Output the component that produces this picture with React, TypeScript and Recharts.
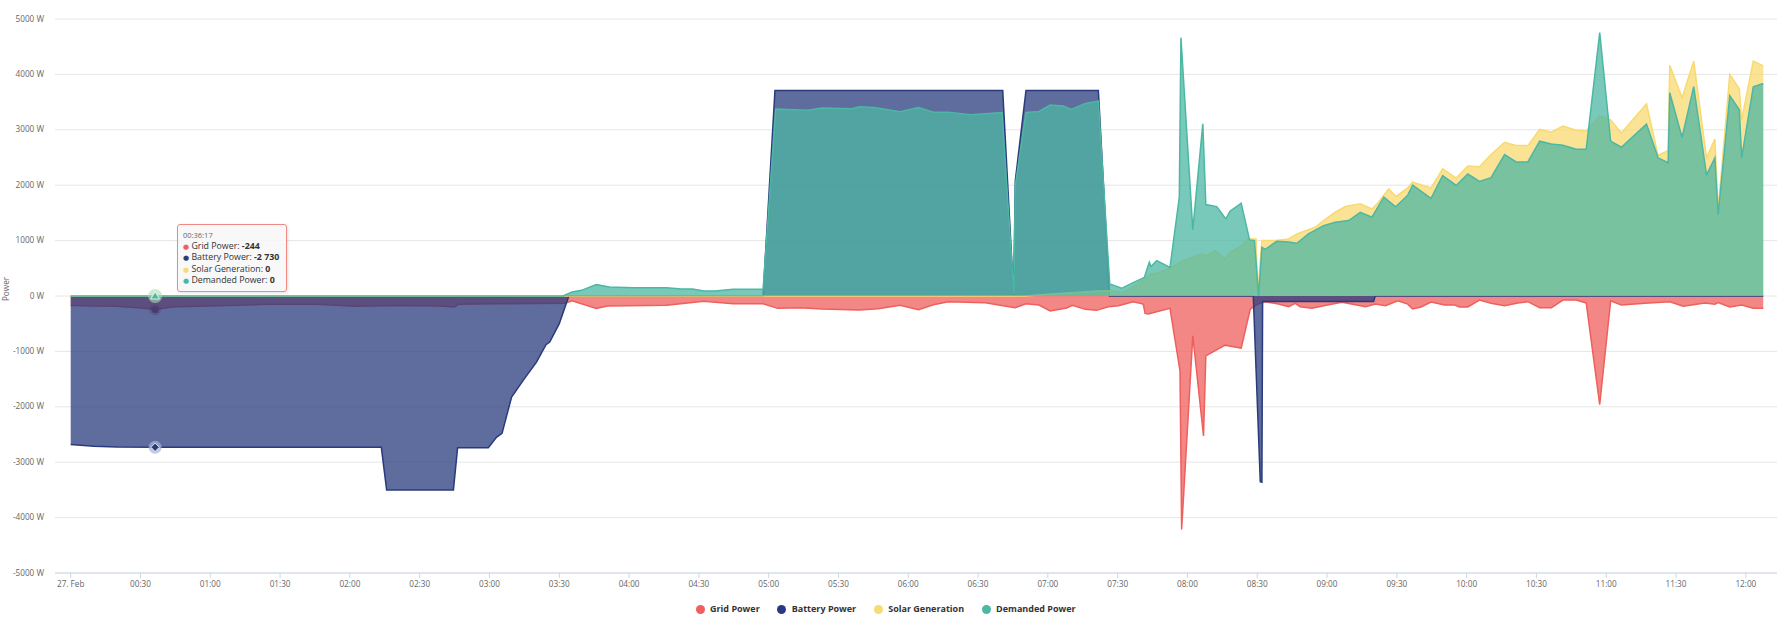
import React from 'react';
import { AreaChart, Area, XAxis, YAxis, CartesianGrid, Tooltip } from 'recharts';

const FONT = '"Open Sans", "DejaVu Sans", sans-serif';

// time = minutes after midnight on 27 Feb, values in W
const gridTimes = [
  0, 10, 19, 24, 30, 36.28, 43.6, 55, 68, 84.6, 106, 122, 142, 158, 165, 166.6, 183, 200, 212.5,
  215.5, 225.9, 230.7, 256.1, 272.1, 284.8, 297.6, 303.9, 313.5, 323, 339, 347, 356.5, 364.4, 370.8,
  377.2, 393.1, 405.9, 410.6, 416.2, 421, 428.1, 430.5, 436.1, 440.9, 446, 450.3, 456.7, 461, 461.8,
  463.2, 467.5, 472.5, 476.8, 477.5, 482.3, 486.9, 487.9, 496.2, 503.1, 507, 510, 513.4, 519.1,
  523.5, 526.3, 528.5, 533.5, 540.7, 546.4, 552.2, 556.5, 560.8, 565.1, 570.4, 574.7, 576.8, 580.4,
  584.7, 590.5, 594.8, 596.9, 600.5, 605.5, 610.5, 616.3, 622, 626.3, 631.4, 636.4, 641.4, 647.1,
  651.4, 657.2, 661.9, 666.5, 676.6, 687.3, 693.1, 702.4, 706.7, 708.1, 713.1, 718.2, 723.2, 727.5,
];
const gridValues = [
  -170, -180, -185, -200, -215, -244, -200, -185, -170, -150, -150, -185, -170, -180, -200, -150, -140, -135, -130,
  -85, -223, -180, -169, -96, -139, -139, -223, -211, -235, -253, -229, -169, -247, -157,
  -102, -120, -211, -139, -163, -271, -217, -169, -241, -259, -193, -175, -103, -145, -314,
  -326, -277, -223, -1350, -4214, -718, -2527, -1080, -887, -941, -236, -150, -103, -145,
  -193, -133, -193, -223, -157, -115, -157, -193, -145, -175, -88, -147, -235, -198,
  -110, -161, -161, -198, -198, -73, -132, -176, -125, -103, -213, -213, -73, -73,
  -125, -1959, -88, -161, -132, -103, -183, -125, -147, -117, -198, -161, -220, -220,
];

const batteryTimes = [
  0, 10, 20, 36.28, 133.5, 135.8, 164.5, 166.3, 179.5, 183, 185.4, 189.5, 194.8, 200.2, 204.3, 205.9,
  210, 214.1, 297.6, 302.7, 400.6, 405.3, 406, 410.6, 441.7, 446.5, 508.3, 511.3, 512, 512.3, 560,
  560.7, 727.5,
];
const batteryValues = [
  -2680, -2710, -2725, -2730, -2730, -3500, -3500, -2740, -2740, -2550, -2480, -1825, -1506, -1193, -880, -831,
  -500, 0, 0, 3710, 3710, 0, 2080, 3710, 3710, 0, 0, -3350, -3360, -100, -100,
  0, 0,
];

const solarTimes = [
  0, 36.28, 410, 420, 430, 441.7, 446.6, 451.7, 456, 461.5, 464.3, 466.8, 472.5, 477.5, 482, 486.1, 488,
  491.9, 496.2, 498.3, 503, 506.2, 509.5, 510.2, 512, 517.7, 523.5, 527, 534.9, 538.5, 543.5, 547.9,
  554.3, 559.3, 561.5, 566.5, 569.7, 574.7, 576.8, 584.7, 589.7, 595.5, 600.5, 605.5, 610.5, 616.3,
  621.3, 626.3, 631.4, 636.4, 641.4, 647.1, 651.4, 657.2, 661.9, 666.5, 677.3, 682.3, 686.6, 687.3,
  692.6, 697.6, 703.1, 706.7, 708.1, 713.1, 717.2, 718.2, 723.2, 727.5,
];
const solarValues = [
  0, 0, 0, 30, 60, 90, 96, 66, 150, 300, 400, 410, 500, 627, 700, 759, 729,
  819, 669, 789, 900, 1030, 1030, 30, 1000, 1000, 1030, 1120, 1241, 1361, 1512, 1614,
  1663, 1572, 1663, 1934, 1797, 1952, 2054, 1952, 2296, 2128, 2348, 2333, 2553, 2773,
  2715, 2715, 3008, 2957, 3067, 2993, 2979, 3250, 3177, 2942, 3470, 2538, 2627, 4167,
  3580, 4240, 2494, 2832, 1550, 3998, 3742, 3177, 4240, 4153,
];

const demandTimes = [
  0, 36.28, 211.6, 215.5, 219.5, 225.9, 231.5, 241.8, 256.1, 262.5, 267.3, 272.1, 276.9, 284.8, 297.6,
  303, 316.7, 323, 335.8, 339, 345.3, 356.5, 364.4, 370.8, 377.2, 386.7, 400.3, 405.4, 406, 410.6,
  416.2, 421, 426.6, 430.1, 436.1, 441.7, 446.6, 451.7, 456, 461.5, 462.5, 463.6, 464.3, 466.8, 472.5,
  476.5, 477.2, 482.3, 486.6, 487.9, 492.6, 496.5, 498.3, 503.1, 506.7, 508.8, 510.6, 512, 513.4,
  518.4, 523.5, 527, 532, 538.5, 543.5, 549.3, 554.3, 559.3, 564.4, 569.5, 574.7, 576.8, 584.7,
  589.7, 595.5, 600.5, 605.5, 610.5, 616.3, 621.3, 626.3, 631.4, 636.4, 641.4, 647.1, 651.4, 657.2,
  661.9, 666.5, 677.3, 682.3, 686.6, 687.3, 692.6, 697.6, 703.1, 706.7, 708.1, 713.1, 717.2, 718.2,
  723.2, 727.5,
];
const demandValues = [
  0, 0, 0, 72, 102, 205, 163, 150, 150, 126, 126, 90, 90, 120, 120,
  3373, 3355, 3392, 3380, 3416, 3404, 3325, 3404, 3319, 3319, 3271, 3313, 30, 2000, 3313,
  3331, 3446, 3428, 3367, 3476, 3518, 217, 139, 229, 337, 470, 608, 530, 639, 518,
  1783, 4663, 1193, 3108, 1651, 1614, 1392, 1530, 1675, 1012, 1000, 0, 880, 843,
  988, 976, 952, 1120, 1271, 1331, 1361, 1512, 1422, 1783, 1610, 1820, 2003, 1761,
  2172, 1996, 2201, 2069, 2135, 2553, 2421, 2421, 2795, 2744, 2722, 2649, 2649, 4754,
  2795, 2685, 3103, 2494, 2406, 3668, 2861, 3778, 2186, 2494, 1467, 3617, 3360, 2494,
  3778, 3837,
];

const xTicks = [0, 30, 60, 90, 120, 150, 180, 210, 240, 270, 300, 330, 360, 390, 420, 450, 480, 510, 540, 570, 600, 630, 660, 690, 720];
const yTicks = [-5000, -4000, -3000, -2000, -1000, 0, 1000, 2000, 3000, 4000, 5000];
const HOVER_T = 36.28;

const SERIES = [
  { key: 'grid', name: 'Grid Power', color: '#ef5f5c', times: gridTimes, values: gridValues },
  { key: 'battery', name: 'Battery Power', color: '#2a3b7d', times: batteryTimes, values: batteryValues },
  { key: 'solar', name: 'Solar Generation', color: '#f8da70', times: solarTimes, values: solarValues },
  { key: 'demand', name: 'Demanded Power', color: '#4cb7a3', times: demandTimes, values: demandValues },
];

const allTimes = Array.from(new Set(SERIES.flatMap((s) => s.times))).sort((a, b) => a - b);
const table = allTimes.map((t) => {
  const row: any = { t };
  SERIES.forEach((s) => {
    const i = s.times.indexOf(t);
    if (i >= 0) row[s.key] = s.values[i];
  });
  return row;
});
const hoverIndex = table.findIndex((r) => r.t === HOVER_T);

const pad = (n: number) => String(n).padStart(2, '0');
const fmtTick = (m: number) => (m === 0 ? '27. Feb' : `${pad(Math.floor(m / 60))}:${pad(m % 60)}`);
const fmtClock = (m: number) => {
  const s = Math.round(m * 60);
  return `${pad(Math.floor(s / 3600))}:${pad(Math.floor((s % 3600) / 60))}:${pad(s % 60)}`;
};
const fmtNum = (v: number) => {
  const s = Math.abs(Math.round(v)).toString().replace(/\B(?=(\d{3})+(?!\d))/g, ' ');
  return (v < 0 ? '-' : '') + s;
};

const YTick = ({ x, y, payload }: any) => (
  <text x={x} y={y} dy="0.32em" textAnchor="end" fontFamily={FONT} fontSize={8.2} fill="#666">
    {`${payload.value} W`}
  </text>
);

const HoverTooltip = ({ active, payload, label }: any) => {
  if (!active || !payload || !payload.length) return null;
  return (
    <div
      style={{
        boxSizing: 'border-box',
        width: 110,
        background: 'rgba(247,247,247,0.85)',
        border: '1px solid #f08883',
        borderRadius: 3,
        padding: '5px 5px',
        fontFamily: FONT,
        fontSize: 8.8,
        color: '#333',
        boxShadow: '1px 1px 3px rgba(0,0,0,0.12)',
        whiteSpace: 'nowrap',
      }}
    >
      <div style={{ fontSize: 7.5, lineHeight: '11px', color: '#666' }}>{fmtClock(label)}</div>
      {payload.map((p: any) => (
        <div key={p.dataKey} style={{ lineHeight: '11.3px' }}>
          <span style={{ color: p.color, fontSize: 7 }}>●</span> {p.name}: <b>{fmtNum(p.value)}</b>
        </div>
      ))}
    </div>
  );
};

const GridDot = ({ cx, cy }: any) => (
  <g>
    <circle cx={cx} cy={cy} r={6} fill="#4a3c6c" fillOpacity={0.3} />
    <circle cx={cx} cy={cy} r={3.6} fill="#4a3c6c" />
  </g>
);

const BatteryDot = ({ cx, cy }: any) => (
  <g>
    <circle cx={cx} cy={cy} r={6.5} fill="#aab3d4" fillOpacity={0.7} />
    <path d={`M${cx},${cy - 4.2}L${cx + 4.2},${cy}L${cx},${cy + 4.2}L${cx - 4.2},${cy}Z`} fill="#2a3b7d" stroke="#fff" strokeWidth={0.8} />
  </g>
);

const DemandDot = ({ cx, cy }: any) => (
  <g>
    <circle cx={cx} cy={cy} r={7} fill="#a9dcb0" fillOpacity={0.6} />
    <path d={`M${cx},${cy - 4.2}L${cx + 4.4},${cy + 3}L${cx - 4.4},${cy + 3}Z`} fill="#4cb7a3" stroke="#fff" strokeWidth={0.8} />
  </g>
);

const DOTS: any = { grid: GridDot, battery: BatteryDot, solar: null, demand: DemandDot };

const PowerLabel = ({ viewBox }: any) => {
  const x = viewBox.x + 5;
  const y = viewBox.y + viewBox.height / 2 - 7;
  return (
    <text x={x} y={y} transform={`rotate(-90 ${x} ${y})`} textAnchor="middle" dominantBaseline="central" fontFamily={FONT} fontSize={8.2} fill="#666">
      Power
    </text>
  );
};

export default function App() {
  return (
    <div style={{ position: 'absolute', left: 0, top: 0, width: 1789, height: 637, background: '#fff' }}>
      <AreaChart width={1789} height={637} data={table} margin={{ top: 19, right: 12, left: 0, bottom: 34 }}>
        <CartesianGrid horizontal vertical={false} stroke="#e6e6e6" />
        <XAxis
          type="number"
          dataKey="t"
          domain={[-6.75, 733.4]}
          allowDataOverflow
          ticks={xTicks}
          interval={0}
          tickFormatter={fmtTick}
          height={30}
          stroke="#ccd6eb"
          tickSize={5}
          tickMargin={3}
          tick={{ fill: '#666', fontSize: 8.2, fontFamily: FONT }}
        />
        <YAxis
          type="number"
          domain={[-5000, 5000]}
          ticks={yTicks}
          interval={0}
          width={55}
          axisLine={false}
          tickLine={false}
          tickMargin={5}
          tick={<YTick />}
          label={<PowerLabel />}
        />
        <Tooltip
          active
          defaultIndex={hoverIndex}
          position={{ x: 177, y: 224 }}
          cursor={false}
          isAnimationActive={false}
          content={<HoverTooltip />}
          wrapperStyle={{ outline: 'none' }}
        />
        {SERIES.map((s) => {
          const Dot = DOTS[s.key];
          return (
            <Area
              key={s.key}
              type="linear"
              dataKey={s.key}
              name={s.name}
              stroke={s.color}
              strokeWidth={1.5}
              fill={s.color}
              fillOpacity={0.75}
              baseValue={0}
              connectNulls
              dot={false}
              activeDot={Dot ? (p: any) => <Dot key={s.key} {...p} /> : false}
              isAnimationActive={false}
            />
          );
        })}
      </AreaChart>
      <div
        style={{
          position: 'absolute',
          left: 695.5,
          top: 603,
          display: 'flex',
          alignItems: 'center',
          fontFamily: FONT,
          fontSize: 9,
          fontWeight: 700,
          color: '#333',
          whiteSpace: 'nowrap',
        }}
      >
        {SERIES.map((s, i) => (
          <div key={s.key} style={{ display: 'flex', alignItems: 'center', marginLeft: i ? 17.5 : 0 }}>
            <span style={{ display: 'inline-block', width: 9, height: 9, borderRadius: '50%', background: s.color, marginRight: 5.5 }} />
            <span style={{ lineHeight: '12px' }}>{s.name}</span>
          </div>
        ))}
      </div>
    </div>
  );
}
